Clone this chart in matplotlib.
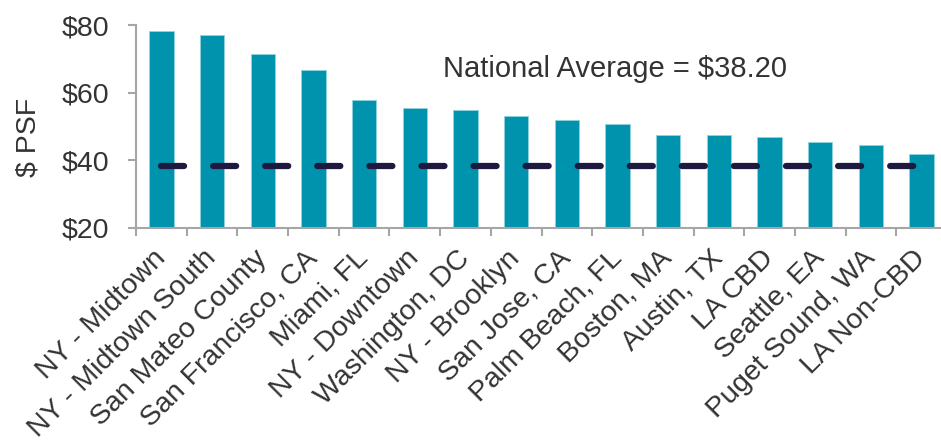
import numpy as np
import matplotlib
matplotlib.use("Agg")
import matplotlib.pyplot as plt
import matplotlib.transforms as mtransforms
from matplotlib.ticker import FixedLocator, FuncFormatter

# datos
mercados = ["NY - Midtown", "NY - Midtown South", "San Mateo County", "San Francisco, CA",
            "Miami, FL", "NY - Downtown", "Washington, DC", "NY - Brooklyn",
            "San Jose, CA", "Palm Beach, FL", "Boston, MA", "Austin, TX",
            "LA CBD", "Seattle, EA", "Puget Sound, WA", "LA Non-CBD"]
psf = [78.1, 77.1, 71.4, 66.8, 57.8, 55.5, 54.8, 53.1,
       51.9, 50.7, 47.4, 47.4, 47.0, 45.3, 44.5, 41.9]
promedio_nacional = 38.20
y_ticks = [20, 40, 60, 80]

plt.rcParams['font.family'] = ['Liberation Sans', 'DejaVu Sans']
plt.rcParams['lines.scale_dashes'] = False

gris = '#A6A6A6'
texto = '#333333'

fig = plt.figure(figsize=(9.41, 4.41), dpi=100)
ax = fig.add_axes([136/941, 1 - 228/441, 811/941, 203/441])

x = np.arange(len(mercados))
ax.bar(x, psf, width=0.48, color='#0093AD', edgecolor='#8FD3DE', linewidth=0.6, zorder=2)

# linea del promedio nacional
ax.plot([0, 15], [promedio_nacional, promedio_nacional], color='#1E1A3F', linewidth=4.5,
        dashes=(16.6, 20.9), dash_capstyle='round', zorder=3)
ax.text(5.56, 64.6, "National Average = $%.2f" % promedio_nacional, fontsize=21,
        color=texto, va='baseline', ha='left')

ax.set_xlim(-0.5, len(mercados) - 0.5)
ax.set_ylim(20, 80)
ax.yaxis.set_major_locator(FixedLocator(y_ticks))
ax.yaxis.set_major_formatter(FuncFormatter(lambda v, p: "$%d" % v))

ax.set_xticks(x)
ax.set_xticklabels(mercados, rotation=45, ha='right', va='center', rotation_mode='anchor',
                   fontsize=20.5, color=texto)
# corrimiento de las etiquetas para que queden como en el original
desplazamiento = mtransforms.ScaledTranslation(5/100, 0, fig.dpi_scale_trans)
for etiqueta in ax.get_xticklabels():
    etiqueta.set_transform(etiqueta.get_transform() + desplazamiento)
ax.set_xticks(np.arange(-0.5, len(mercados), 1), minor=True)
ax.tick_params(axis='x', which='major', length=0, pad=19)
ax.tick_params(axis='x', which='minor', length=6, width=1.5, color=gris, direction='out')
ax.tick_params(axis='y', length=6, width=1.5, color=gris, labelsize=20.5, labelcolor=texto, pad=13)

for lado in ['top', 'right']:
    ax.spines[lado].set_visible(False)
for lado in ['left', 'bottom']:
    ax.spines[lado].set_color(gris)
    ax.spines[lado].set_linewidth(1.5)

fig.text(29/941, 1 - 137/441, "$ PSF", rotation=90, fontsize=20.5, color=texto,
         ha='center', va='center')

fig.savefig("out.png", dpi=100)
